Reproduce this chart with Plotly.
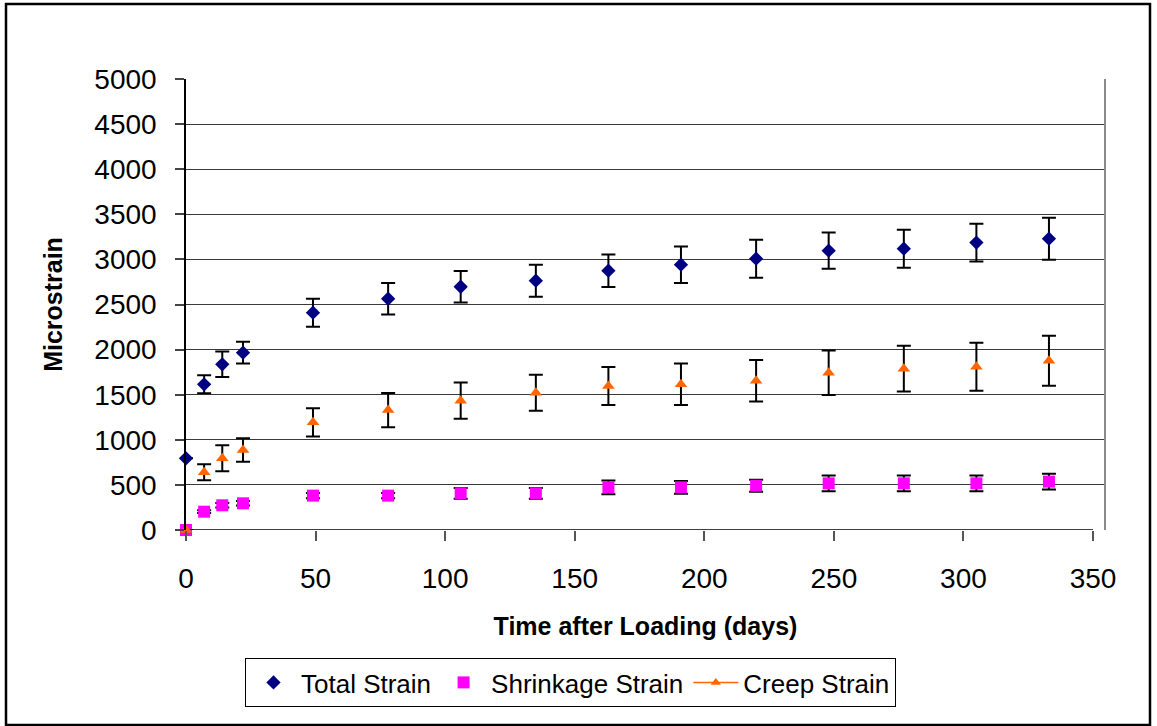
import plotly.graph_objects as go

# Time after loading (days)
days = [0, 7, 14, 22, 49, 78, 106, 135, 163, 191, 220, 248, 277, 305, 333]

# Total strain (microstrain) and its standard deviation
total_strain = [795, 1615, 1837, 1966, 2409, 2564, 2697, 2764, 2875, 2941,
                3008, 3097, 3119, 3186, 3230]
total_sd = [0, 100, 142, 120, 155, 175, 175, 177, 180, 203, 211, 200, 211, 209, 233]

# Shrinkage strain (microstrain) and its standard deviation
shrinkage_strain = [0, 203, 274, 296, 381, 381, 407, 407, 473, 473,
                    491, 517, 517, 517, 536]
shrinkage_sd = [0, 15, 25, 25, 30, 30, 60, 60, 77, 70, 66, 88, 88, 88, 88]

# Creep strain (microstrain) and its standard deviation
creep_strain = [0, 640, 795, 887, 1194, 1330, 1434, 1522, 1596, 1615,
                1655, 1744, 1789, 1811, 1877]
creep_sd = [0, 88, 145, 131, 157, 190, 200, 200, 210, 230, 230, 246, 253, 266, 277]

x_ticks = [0, 50, 100, 150, 200, 250, 300, 350]
y_ticks = [0, 500, 1000, 1500, 2000, 2500, 3000, 3500, 4000, 4500, 5000]

W, H = 1157, 726
PLOT_L, PLOT_R, PLOT_T, PLOT_B = 186, 1105, 79, 530
X_LAST = 350
X_AXIS_END_PX = 1093
x_max = X_LAST * (PLOT_R - PLOT_L) / (X_AXIS_END_PX - PLOT_L)


def px_to_paper_x(px):
    return (px - PLOT_L) / (PLOT_R - PLOT_L)


def px_to_paper_y(py):
    return (PLOT_B - py) / (PLOT_B - PLOT_T)


FONT = "Liberation Sans, Arial, sans-serif"

err_style = dict(type="data", visible=True, color="black", thickness=2, width=7)

fig = go.Figure()

fig.add_trace(go.Scatter(
    x=days, y=total_strain, mode="markers", name="Total Strain",
    marker=dict(symbol="diamond", size=11, color="#000080"),
    error_y=dict(array=total_sd, **err_style),
    cliponaxis=False,
))
fig.add_trace(go.Scatter(
    x=days, y=shrinkage_strain, mode="markers", name="Shrinkage Strain",
    marker=dict(symbol="square", size=12, color="#FF00FF"),
    error_y=dict(array=shrinkage_sd, **err_style),
    cliponaxis=False,
))
fig.add_trace(go.Scatter(
    x=days, y=creep_strain, mode="markers", name="Creep Strain",
    marker=dict(symbol="triangle-up", size=11, color="#FF6600"),
    error_y=dict(array=creep_sd, **err_style),
    showlegend=False, cliponaxis=False,
))
# legend entry for creep drawn with its line style
fig.add_trace(go.Scatter(
    x=[None], y=[None], mode="lines+markers", name="Creep Strain",
    line=dict(color="#FF6600", width=1.5),
    marker=dict(symbol="triangle-up", size=9, color="#FF6600"),
))

# x axis line ends at the last tick
fig.add_shape(type="line", xref="x", yref="y", x0=0, x1=X_LAST, y0=0, y1=0,
              line=dict(color="black", width=1.5), layer="below")
# right edge of the plot area
fig.add_shape(type="line", xref="paper", yref="paper", x0=1, x1=1, y0=0, y1=1,
              line=dict(color="#8a8a8a", width=2))
# outer chart frame
fig.add_shape(type="rect", xref="paper", yref="paper",
              x0=px_to_paper_x(6), x1=px_to_paper_x(1150),
              y0=px_to_paper_y(725), y1=px_to_paper_y(4),
              line=dict(color="black", width=2.5))

fig.update_layout(
    width=W, height=H,
    margin=dict(l=PLOT_L, r=W - PLOT_R, t=PLOT_T, b=H - PLOT_B, pad=0),
    paper_bgcolor="white", plot_bgcolor="white",
    font=dict(family=FONT, color="black"),
    showlegend=True,
    legend=dict(
        orientation="h", x=px_to_paper_x(245), y=px_to_paper_y(658),
        xanchor="left", yanchor="top",
        font=dict(size=26, family=FONT, color="black"),
        bordercolor="black", borderwidth=1, bgcolor="white",
        traceorder="normal", itemwidth=45,
    ),
    xaxis=dict(
        range=[0, x_max], tickvals=x_ticks, ticktext=[str(v) for v in x_ticks],
        showgrid=False, zeroline=False, showline=False,
        ticks="outside", ticklen=10, tickwidth=1.5, tickcolor="#555",
        ticklabelstandoff=13,
        tickfont=dict(size=28, family=FONT, color="black"),
        title=dict(text="<b>Time after Loading (days)</b>",
                   font=dict(size=25, family=FONT, color="black"), standoff=24),
    ),
    yaxis=dict(
        range=[0, 5000], tickvals=y_ticks, ticktext=[str(v) for v in y_ticks],
        showgrid=True, gridcolor="#3a3a3a", gridwidth=1, zeroline=False,
        showline=True, linecolor="black", linewidth=1.5,
        ticks="outside", ticklen=9, tickwidth=1.5, tickcolor="#444",
        ticklabelstandoff=13,
        tickfont=dict(size=28, family=FONT, color="black"),
        title=dict(text="<b>Microstrain</b>",
                   font=dict(size=25, family=FONT, color="black"), standoff=25),
    ),
)

fig.write_html("out.html")
